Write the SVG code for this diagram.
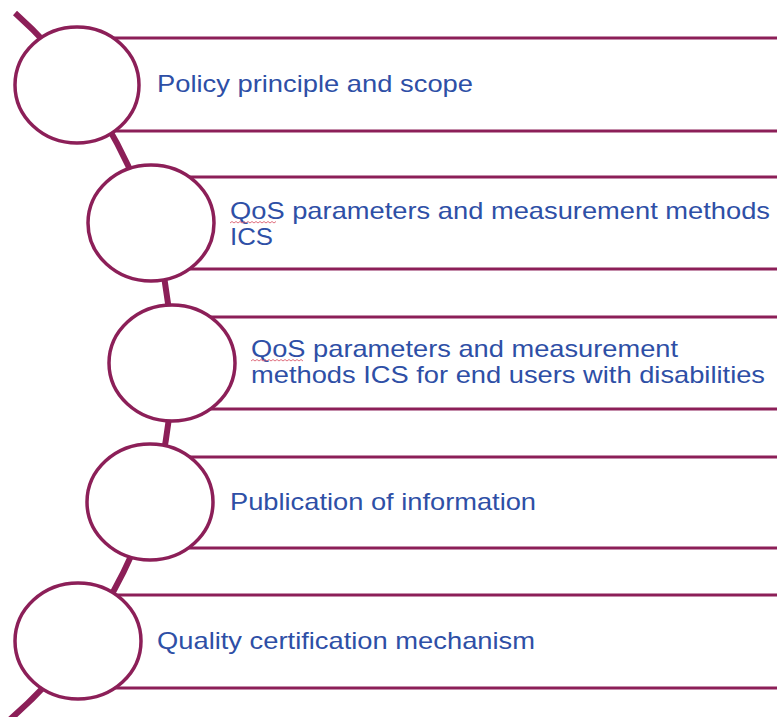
<svg xmlns="http://www.w3.org/2000/svg" width="777" height="717" viewBox="0 0 777 717">
<style>
.arc{fill:none;stroke:#8C1F58;stroke-width:6}
.band{stroke:#8C1F58;stroke-width:3}
.node{fill:#fff;stroke:#8C1F58;stroke-width:3.5}
.lbl{font-family:"Liberation Sans",Arial,sans-serif;font-size:24px;fill:#2E4FA6}
.sq{fill:none;stroke:#E07080;stroke-width:1}
</style>
<g id="connectors">
<path class="arc" d="M15,13 A471,471 0 0,1 7,722"/>
</g>
<g id="node1">
<line class="band" x1="77" y1="38" x2="777" y2="38"/>
<line class="band" x1="77" y1="131" x2="777" y2="131"/>
<ellipse class="node" cx="77" cy="85" rx="62" ry="58"/>
<text class="lbl" x="157" y="92" textLength="316" lengthAdjust="spacingAndGlyphs">Policy principle and scope</text>
</g>
<g id="node2">
<line class="band" x1="151" y1="177" x2="777" y2="177"/>
<line class="band" x1="151" y1="269" x2="777" y2="269"/>
<ellipse class="node" cx="151" cy="223" rx="63" ry="58"/>
<text class="lbl" x="230" y="219" textLength="540" lengthAdjust="spacingAndGlyphs">QoS parameters and measurement methods</text>
<text class="lbl" x="230" y="245" textLength="43" lengthAdjust="spacingAndGlyphs">ICS</text>
<path class="sq" d="M230,223 l2,-1.5 l2,1.5 l2,-1.5 l2,1.5 l2,-1.5 l2,1.5 l2,-1.5 l2,1.5 l2,-1.5 l2,1.5 l2,-1.5 l2,1.5 l2,-1.5 l2,1.5 l2,-1.5 l2,1.5 l2,-1.5 l2,1.5 l2,-1.5 l2,1.5 l2,-1.5 l2,1.5 l2,-1.5"/>
</g>
<g id="node3">
<line class="band" x1="172" y1="317" x2="777" y2="317"/>
<line class="band" x1="172" y1="409" x2="777" y2="409"/>
<ellipse class="node" cx="172" cy="363" rx="63" ry="58"/>
<text class="lbl" x="251" y="357" textLength="427" lengthAdjust="spacingAndGlyphs">QoS parameters and measurement</text>
<text class="lbl" x="251" y="383" textLength="514" lengthAdjust="spacingAndGlyphs">methods ICS for end users with disabilities</text>
<path class="sq" d="M251,361 l2,-1.5 l2,1.5 l2,-1.5 l2,1.5 l2,-1.5 l2,1.5 l2,-1.5 l2,1.5 l2,-1.5 l2,1.5 l2,-1.5 l2,1.5 l2,-1.5 l2,1.5 l2,-1.5 l2,1.5 l2,-1.5 l2,1.5 l2,-1.5 l2,1.5 l2,-1.5 l2,1.5 l2,-1.5 l2,1.5 l2,-1.5 l2,1.5"/>
</g>
<g id="node4">
<line class="band" x1="150" y1="457" x2="777" y2="457"/>
<line class="band" x1="150" y1="548" x2="777" y2="548"/>
<ellipse class="node" cx="150" cy="502" rx="63" ry="58"/>
<text class="lbl" x="230" y="510" textLength="306" lengthAdjust="spacingAndGlyphs">Publication of information</text>
</g>
<g id="node5">
<line class="band" x1="78" y1="595" x2="777" y2="595"/>
<line class="band" x1="78" y1="688" x2="777" y2="688"/>
<ellipse class="node" cx="78" cy="641" rx="63" ry="58"/>
<text class="lbl" x="157" y="649" textLength="378" lengthAdjust="spacingAndGlyphs">Quality certification mechanism</text>
</g>
</svg>
